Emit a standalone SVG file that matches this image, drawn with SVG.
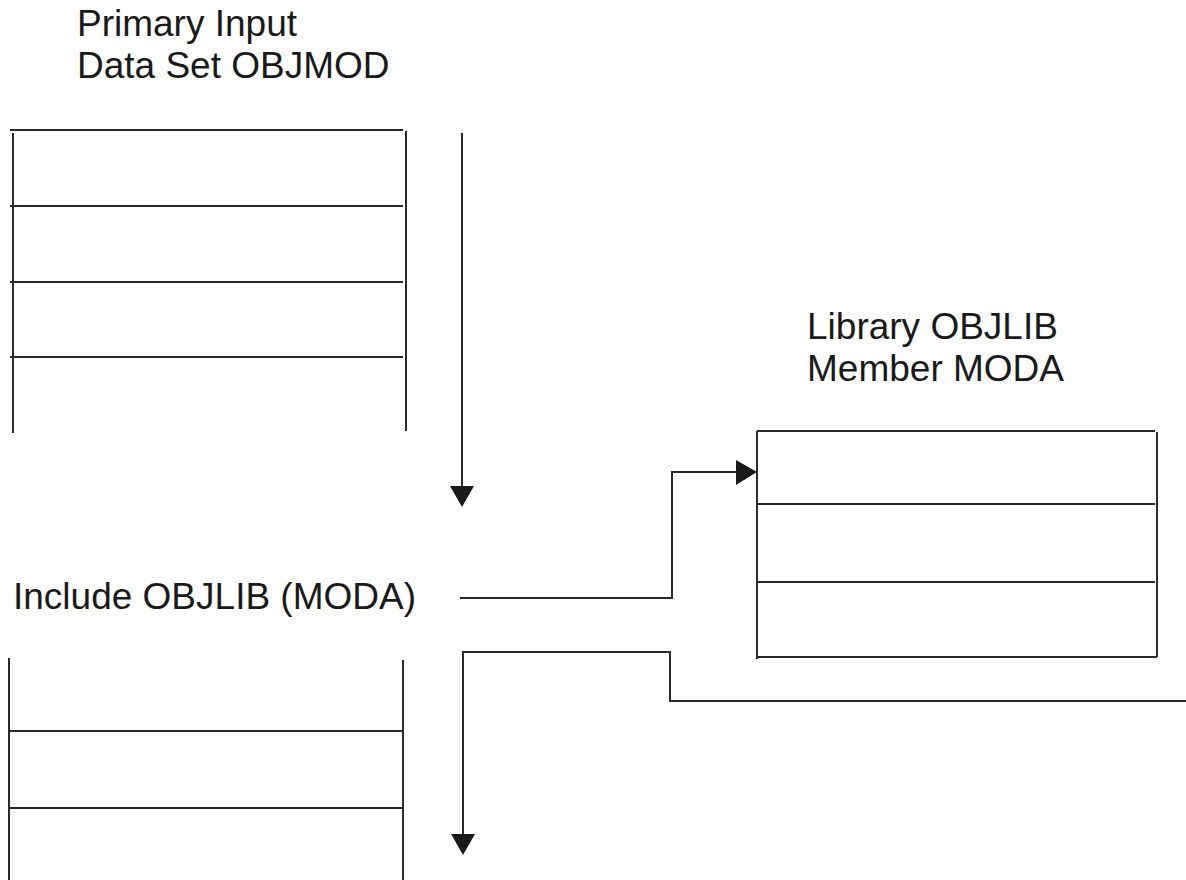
<svg xmlns="http://www.w3.org/2000/svg" width="1186" height="880" viewBox="0 0 1186 880">
<defs>
<style>
.ln{stroke:#2a2a2a;stroke-width:2;fill:none}
.t{font-family:"Liberation Sans",Arial,sans-serif;font-size:37px;fill:#1a1a1a}
.ah{fill:#1a1a1a}
</style>
</defs>
<rect width="1186" height="880" fill="#fff"/>
<g id="label-primary">
<text class="t" x="77" y="36">Primary Input</text>
<text class="t" x="77" y="78">Data Set OBJMOD</text>
</g>
<g id="objmod-top">
<line class="ln" x1="10" y1="130" x2="403" y2="130"/>
<line class="ln" x1="13" y1="133" x2="13" y2="433"/>
<line class="ln" x1="406" y1="131" x2="406" y2="431"/>
<line class="ln" x1="10" y1="206" x2="403" y2="206"/>
<line class="ln" x1="10" y1="282" x2="403" y2="282"/>
<line class="ln" x1="10" y1="357" x2="403" y2="357"/>
</g>
<g id="label-library">
<text class="t" x="807" y="339">Library OBJLIB</text>
<text class="t" x="807" y="381">Member MODA</text>
</g>
<g id="objlib-moda">
<line class="ln" x1="757" y1="431" x2="1155" y2="431"/>
<line class="ln" x1="757" y1="431" x2="757" y2="659"/>
<line class="ln" x1="1157" y1="432" x2="1157" y2="657"/>
<line class="ln" x1="757" y1="504" x2="1155" y2="504"/>
<line class="ln" x1="757" y1="582" x2="1155" y2="582"/>
<line class="ln" x1="757" y1="657" x2="1157" y2="657"/>
</g>
<g id="label-include">
<text class="t" x="13" y="609">Include OBJLIB (MODA)</text>
</g>
<g id="objmod-bottom">
<line class="ln" x1="9" y1="658" x2="9" y2="880"/>
<line class="ln" x1="403" y1="660" x2="403" y2="880"/>
<line class="ln" x1="9" y1="731" x2="403" y2="731"/>
<line class="ln" x1="9" y1="808" x2="403" y2="808"/>
</g>
<g id="connectors">
<line class="ln" x1="462" y1="133" x2="462" y2="490"/>
<polygon class="ah" points="450,486 474,486 462,507"/>
<polyline class="ln" points="460,598 672,598 672,472 740,472"/>
<polygon class="ah" points="736,460 757,472 736,485"/>
<polyline class="ln" points="1186,701 670,701 670,652 463,652 463,838"/>
<polygon class="ah" points="451,834 475,834 463,855"/>
</g>
</svg>
